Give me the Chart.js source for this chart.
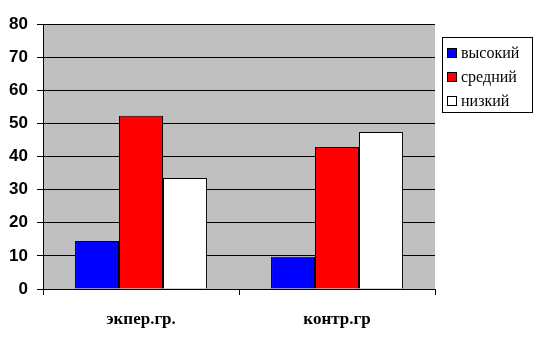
<!DOCTYPE html>
<html>
<head>
<meta charset="utf-8">
<script src="https://cdn.jsdelivr.net/npm/chart.js@4"></script>
<style>
  html, body { margin: 0; padding: 0; background: #fff; }
  #wrap { width: 539px; height: 337px; }
</style>
</head>
<body>
<div id="wrap"><canvas id="chart" width="539" height="337"></canvas></div>
<script>
const categories = ["экпер.гр.", "контр.гр"];
const seriesNames = ["высокий", "средний", "низкий"];
const highValues = [14.5, 9.7];
const midValues = [52.3, 42.9];
const lowValues = [33.5, 47.4];
const yTicks = [0, 10, 20, 30, 40, 50, 60, 70, 80];

const colors = ["#0000ff", "#ff0000", "#ffffff"];

// gray plot area behind bars
const plotBg = {
    id: "plotBg",
    beforeDraw: (chart) => {
        const a = chart.chartArea;
        const ctx = chart.ctx;
        ctx.save();
        ctx.fillStyle = "#c0c0c0";
        ctx.fillRect(a.left, a.top, a.right - a.left, a.bottom - a.top);
        ctx.restore();
    }
};

// framed legend box on the right
const boxLegend = {
    id: "boxLegend",
    afterDraw: (chart) => {
        const ctx = chart.ctx;
        ctx.save();
        ctx.fillStyle = "#fff";
        ctx.fillRect(442.5, 37.5, 90, 75);
        ctx.strokeStyle = "#000";
        ctx.lineWidth = 1;
        ctx.strokeRect(442.5, 37.5, 90, 75);
        ctx.font = "16px 'Liberation Serif', serif";
        ctx.textBaseline = "middle";
        chart.data.datasets.forEach((ds, i) => {
            const y = 53 + i * 24;
            ctx.fillStyle = ds.backgroundColor;
            ctx.fillRect(447.5, y - 4.5, 9, 9);
            ctx.strokeRect(447.5, y - 4.5, 9, 9);
            ctx.fillStyle = "#000";
            ctx.fillText(ds.label, 461, y + 1);
        });
        ctx.restore();
    }
};

const datasets = [highValues, midValues, lowValues].map((vals, i) => ({
    label: seriesNames[i],
    data: vals,
    backgroundColor: colors[i],
    borderColor: "#000",
    borderWidth: 1,
    barPercentage: 1,
    categoryPercentage: 0.673
}));

new Chart(document.getElementById("chart"), {
    type: "bar",
    data: { labels: categories, datasets: datasets },
    options: {
        responsive: false,
        animation: false,
        layout: { padding: { top: 24, right: 104, left: 0, bottom: 0 } },
        plugins: {
            legend: { display: false },
            tooltip: { enabled: false }
        },
        scales: {
            x: {
                grid: {
                    offset: true,
                    drawOnChartArea: false,
                    color: "#000",
                    tickLength: 6
                },
                border: { color: "#000" },
                ticks: {
                    color: "#000",
                    padding: 14,
                    font: { family: "'Liberation Serif', serif", size: 17, weight: "bold" }
                },
                afterFit: (s) => { s.height = 48; }
            },
            y: {
                min: 0,
                max: 80,
                afterBuildTicks: (s) => { s.ticks = yTicks.map((v) => ({ value: v })); },
                grid: { color: "#000", tickLength: 6 },
                border: { color: "#000" },
                ticks: {
                    color: "#000",
                    padding: 9,
                    font: { family: "'Liberation Sans', Arial, sans-serif", size: 17, weight: "bold" }
                },
                afterFit: (s) => { s.width = 43; }
            }
        }
    },
    plugins: [plotBg, boxLegend]
});
</script>
</body>
</html>
